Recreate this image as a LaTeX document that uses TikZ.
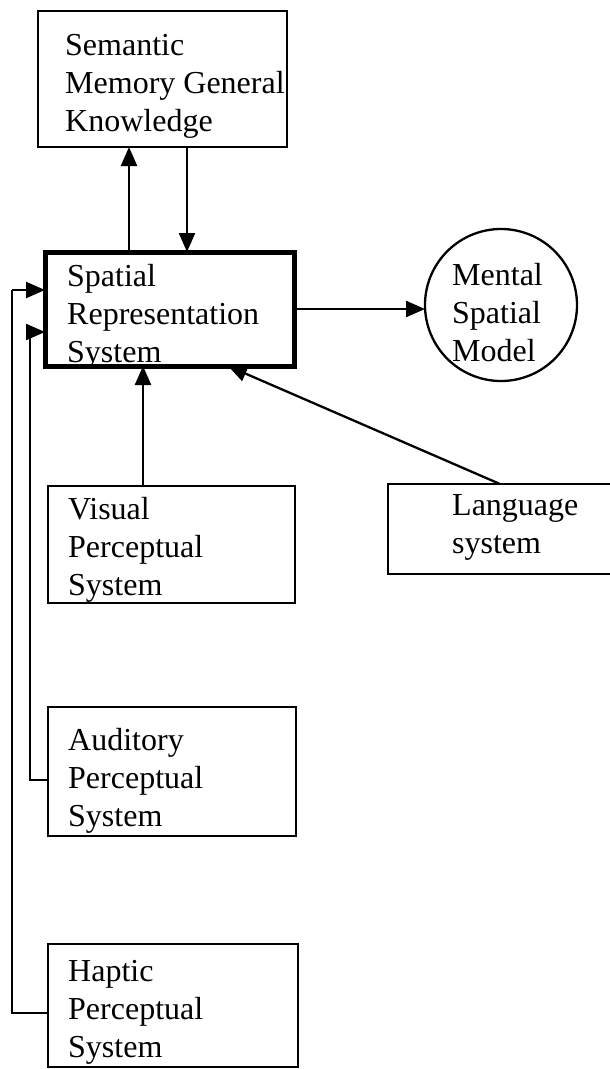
\documentclass[tikz,border=0pt]{standalone}
\usepackage{fontspec}
\setmainfont{Liberation Serif}
\usetikzlibrary{arrows.meta,calc}
\begin{document}
\begin{tikzpicture}[x=1pt,y=-1pt,
  box/.style={draw,line width=2.3pt,rectangle,inner sep=0pt,outer sep=0pt},
  thickbox/.style={box,line width=5pt},
  roundnode/.style={draw,line width=2.3pt,circle,inner sep=0pt,outer sep=0pt,minimum size=152pt},
  txt/.style={anchor=base west,align=left,inner sep=0pt,font=\fontsize{32}{38}\selectfont},
  conn/.style={line width=2.3pt},
  arr/.style={conn,-{Triangle[length=19pt,width=16pt]}}]
\useasboundingbox[fill=white] (0,0) rectangle (610,1069);
% boxes
\node[box,minimum width=249pt,minimum height=136pt] (sem) at (162.5,79) {};
\node[thickbox,minimum width=249pt,minimum height=114pt] (srs) at (169.5,309) {};
\node[roundnode] (men) at (501,305) {};
\node[box,minimum width=247pt,minimum height=117pt] (vis) at (171.5,544.5) {};
\node[box,minimum width=237pt,minimum height=90pt] (lang) at (506.5,529) {};
\node[box,minimum width=248pt,minimum height=129pt] (aud) at (172,771.5) {};
\node[box,minimum width=250pt,minimum height=123pt] (hap) at (173,1005.5) {};
% texts (anchored at the baseline of the last line)
\node[txt] (semt) at (65,131) {Semantic\\Memory General\\Knowledge};
\node[txt] (srst) at (67,362) {Spatial\\Representation\\System};
\node[txt] (ment) at (452,361) {Mental\\Spatial\\Model};
\node[txt] (vist) at (68,595) {Visual\\Perceptual\\System};
\node[txt] (langt) at (452,553) {Language\\system};
\node[txt] (audt) at (68,826) {Auditory\\Perceptual\\System};
\node[txt] (hapt) at (68,1057) {Haptic\\Perceptual\\System};
% connectors
\draw[arr] ([xshift=-40.5pt]srs.north) -- ([xshift=-40.5pt]srs.north |- sem.south);
\draw[arr] ([xshift=24.5pt]sem.south) -- ([xshift=24.5pt]sem.south |- srs.north);
\draw[arr] (srs.east) -- (srs.east -| men.west);
\draw[arr] ([xshift=-28.5pt]vis.north) -- ([xshift=-28.5pt]vis.north |- srs.south);
\draw[arr] ([xshift=-6.5pt]lang.north) -- ([xshift=58.5pt]srs.south);
\coordinate (hx) at (12,290);
\coordinate (ax) at (30,332);
\draw[conn] ([yshift=-7.5pt]hap.west) -| (hx);
\draw[arr] (hx) -- (hx -| srs.west);
\draw[conn] ([yshift=-8.5pt]aud.west) -| (ax);
\draw[arr] (ax) -- (ax -| srs.west);
\end{tikzpicture}
\end{document}
